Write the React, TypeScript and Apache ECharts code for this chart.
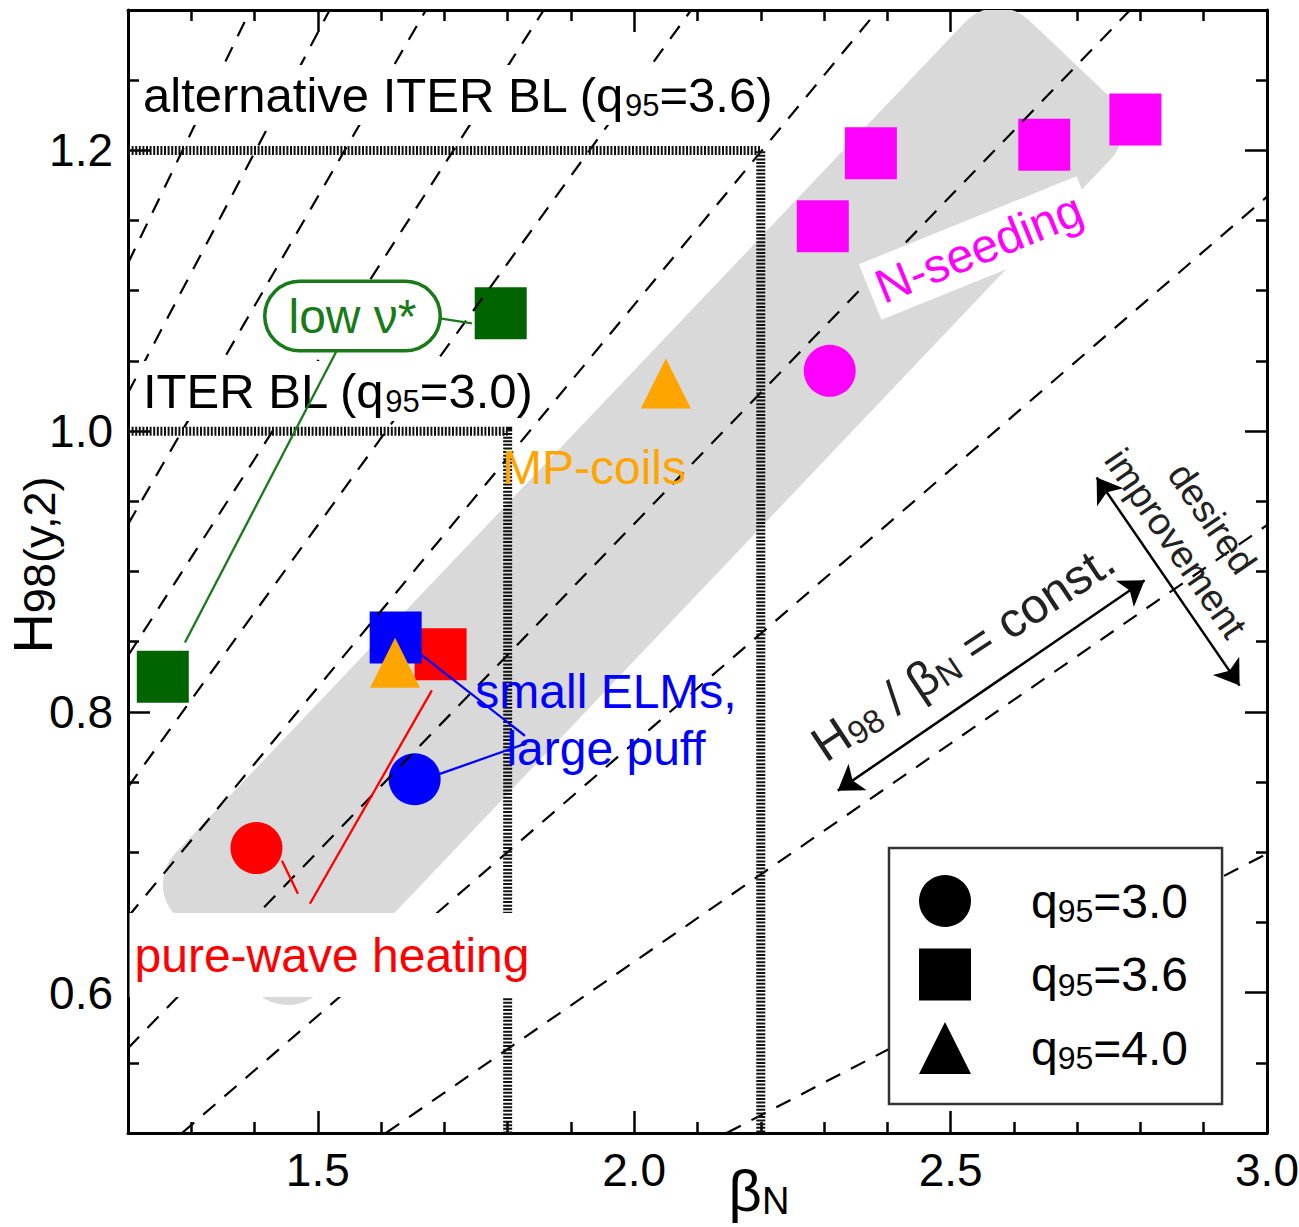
import React, { useEffect, useRef } from 'react';
import * as echarts from 'echarts';

// ---------- data ----------
const X_RANGE = [1.2, 3.0];
const Y_RANGE = [0.5, 1.3];
const X_LABELS = [1.5, 2.0, 2.5, 3.0];
const Y_LABELS = [0.6, 0.8, 1.0, 1.2];

// H98 / betaN = const. lines (ratios)
const constRatios = [0.233, 0.311, 0.389, 0.467, 0.545, 0.622, 0.7, 0.778, 0.856, 0.933];

// ITER baseline boxes [betaN, H98]
const iterBL36 = [[1.2, 1.2], [2.2, 1.2], [2.2, 0.5]];
const iterBL30 = [[1.2, 1.0], [1.8, 1.0], [1.8, 0.5]];

// grey band: centre-line end points [betaN1, H1, betaN2, H2]
const bandEnds = [1.3406, 0.6269, 2.6866, 1.2658];

// q95 = 3.0 (circles)
const circleX = [1.403, 1.653, 2.309];
const circleY = [0.703, 0.752, 1.043];
const circleGroup = ['pureWave', 'smallELM', 'nSeed'];

// q95 = 3.6 (squares)
const squareX = [1.255, 1.789, 1.694, 1.623, 2.298, 2.374, 2.648, 2.792];
const squareY = [0.825, 1.084, 0.841, 0.853, 1.146, 1.198, 1.204, 1.222];
const squareGroup = ['lowNu', 'lowNu', 'pureWave', 'smallELM', 'nSeed', 'nSeed', 'nSeed', 'nSeed'];

// q95 = 4.0 (triangles)
const triX = [1.622, 2.05];
const triY = [0.835, 1.034];
const triGroup = ['mpCoils', 'mpCoils'];

const legendNames = ['q95=3.0', 'q95=3.6', 'q95=4.0'];

// label connectors
const connectorFrom = [[1.693, 1.0804], [1.5302, 1.0576], [1.6613, 0.8415], [1.6929, 0.7558], [1.4433, 0.6939], [1.4875, 0.6633]];
const connectorTo = [[1.7434, 1.0768], [1.29, 0.8494], [1.8272, 0.783], [1.8304, 0.7777], [1.4686, 0.6704], [1.6802, 0.8153]];
const connectorGroup = ['lowNu', 'lowNu', 'smallELM', 'smallELM', 'pureWave', 'pureWave'];

// double arrows
const constArrow = [[2.3217, 0.7439], [2.8066, 0.8937]];
const improveArrow = [[2.7308, 0.967], [2.9567, 0.8187]];

// ---------- styles ----------
const GROUP_COLOR: Record<string, string> = {
  lowNu: '#006400',
  pureWave: '#ff0000',
  smallELM: '#0000ff',
  nSeed: '#ff00ff',
  mpCoils: '#ffa500',
};
const LINE_COLOR: Record<string, string> = {
  lowNu: '#1a7a1a',
  pureWave: '#ff0000',
  smallELM: '#0000ff',
};
const F = "'Liberation Sans', Arial, Helvetica, sans-serif";
const BAND_W = 200;
const BAND_R = 45;
const deg = Math.PI / 180;

const isTick = (list: number[], v: number) => list.some((t) => Math.abs(t - v) < 1e-6);

function buildOption() {
  const dashedLines = constRatios.map((c) => {
    const x1 = Math.max(X_RANGE[0], Y_RANGE[0] / c);
    const x2 = Math.min(X_RANGE[1], Y_RANGE[1] / c);
    return { coords: [[x1, c * x1], [x2, c * x2]] };
  });

  const mkPts = (xs: number[], ys: number[], gs: string[]) =>
    xs.map((x, i) => ({ value: [x, ys[i]], itemStyle: { color: GROUP_COLOR[gs[i]] } }));

  const axisBase = {
    type: 'value',
    axisLine: { show: true, onZero: false, lineStyle: { color: '#000', width: 3 } },
    axisTick: { show: true, inside: true, length: 22, lineStyle: { color: '#000', width: 2.5 } },
    splitLine: { show: false },
    minorSplitLine: { show: false },
  };
  const xBase = {
    ...axisBase,
    min: X_RANGE[0],
    max: X_RANGE[1],
    minInterval: 0.5,
    maxInterval: 0.5,
    minorTick: { show: true, splitNumber: 5, length: 11, lineStyle: { color: '#000', width: 2.5 } },
  };
  const yBase = {
    ...axisBase,
    min: Y_RANGE[0],
    max: Y_RANGE[1],
    minInterval: 0.2,
    maxInterval: 0.2,
    minorTick: { show: true, splitNumber: 4, length: 11, lineStyle: { color: '#000', width: 2.5 } },
  };

  const subRich = (big: number, small: number, color: string, lh: number, slh: number) => ({
    a: { fontSize: big, lineHeight: lh, fontFamily: F, fill: color, color },
    s: { fontSize: small, lineHeight: slh, fontFamily: F, fill: color, color, verticalAlign: 'bottom' },
  });

  return {
    animation: false,
    backgroundColor: '#fff',
    grid: { left: 128, right: 32, top: 10, bottom: 94, containLabel: false, outerBoundsMode: 'none' },
    xAxis: [
      {
        ...xBase,
        position: 'bottom',
        axisLabel: {
          show: true,
          margin: 14,
          fontSize: 46,
          lineHeight: 46,
          fontFamily: F,
          color: '#000',
          formatter: (v: number) => (isTick(X_LABELS, v) ? v.toFixed(1) : ''),
        },
        name: '{b|β}{n|N}',
        nameLocation: 'middle',
        nameGap: 27,
        nameMoveOverlap: false,
        nameTextStyle: {
          padding: [0, 0, 0, 123],
          rich: {
            b: { fontSize: 58, lineHeight: 60, fontFamily: F, color: '#000' },
            n: { fontSize: 38, lineHeight: 22, fontFamily: F, color: '#000', verticalAlign: 'bottom' },
          },
        },
      },
      { ...xBase, position: 'top', axisLabel: { show: false } },
    ],
    yAxis: [
      {
        ...yBase,
        position: 'left',
        axisLabel: {
          show: true,
          margin: 15,
          fontSize: 46,
          fontFamily: F,
          color: '#000',
          formatter: (v: number) => (isTick(Y_LABELS, v) ? v.toFixed(1) : ''),
        },
        name: '{h|H}{s|98(y,2)}',
        nameLocation: 'middle',
        nameRotate: 90,
        nameGap: 66,
        nameMoveOverlap: false,
        nameTextStyle: {
          padding: [0, 0, 0, 13],
          rich: {
            h: { fontSize: 56, lineHeight: 60, fontFamily: F, color: '#000' },
            s: { fontSize: 45, lineHeight: 46, fontFamily: F, color: '#000', verticalAlign: 'bottom' },
          },
        },
      },
      { ...yBase, position: 'right', axisLabel: { show: false } },
    ],
    legend: {
      show: true,
      orient: 'vertical',
      left: 889,
      top: 848,
      z: 8,
      padding: [27, 34, 30, 30],
      itemWidth: 52,
      itemHeight: 52,
      itemGap: 21.5,
      backgroundColor: '#fff',
      borderColor: '#333',
      borderWidth: 2.5,
      borderRadius: 0,
      selectedMode: false,
      data: [
        { name: legendNames[0], icon: 'circle' },
        { name: legendNames[1], icon: 'rect' },
        { name: legendNames[2], icon: 'triangle' },
      ],
      formatter: (name: string) => {
        const m = name.match(/^q(\d+)(=.*)$/);
        return m ? `{q|q}{s|${m[1]}}{n|${m[2]}}` : name;
      },
      textStyle: {
        color: '#000',
        fontFamily: F,
        fontSize: 48,
        rich: {
          q: { fontSize: 48, lineHeight: 52, fontFamily: F, color: '#000', padding: [0, 0, 0, 55] },
          s: { fontSize: 32, lineHeight: 28, fontFamily: F, color: '#000', verticalAlign: 'bottom' },
          n: { fontSize: 48, lineHeight: 52, fontFamily: F, color: '#000' },
        },
      },
    },
    series: [
      {
        type: 'custom',
        name: 'band',
        z: 1,
        silent: true,
        clip: true,
        data: [bandEnds],
        renderItem: (params: any, api: any) => {
          const p1 = api.coord([api.value(0), api.value(1)]);
          const p2 = api.coord([api.value(2), api.value(3)]);
          const dx = p2[0] - p1[0];
          const dy = p2[1] - p1[1];
          const len = Math.hypot(dx, dy);
          return {
            type: 'rect',
            x: (p1[0] + p2[0]) / 2,
            y: (p1[1] + p2[1]) / 2,
            rotation: Math.atan2(-dy, dx),
            shape: { x: -len / 2, y: -BAND_W / 2, width: len, height: BAND_W, r: BAND_R },
            style: { fill: '#d9d9d9' },
          };
        },
      },
      {
        type: 'scatter',
        name: legendNames[0],
        z: 2,
        symbol: 'circle',
        symbolSize: 52,
        itemStyle: { color: '#000', opacity: 1 },
        silent: true,
        data: mkPts(circleX, circleY, circleGroup),
      },
      {
        type: 'scatter',
        name: legendNames[1],
        z: 2,
        symbol: 'rect',
        symbolSize: 52,
        itemStyle: { color: '#000', opacity: 1 },
        silent: true,
        data: mkPts(squareX, squareY, squareGroup),
      },
      {
        type: 'scatter',
        name: legendNames[2],
        z: 2,
        symbol: 'triangle',
        symbolSize: [50, 50],
        itemStyle: { color: '#000', opacity: 1 },
        silent: true,
        data: mkPts(triX, triY, triGroup),
      },
      {
        type: 'lines',
        name: 'H98/betaN = const',
        coordinateSystem: 'cartesian2d',
        z: 3,
        silent: true,
        lineStyle: { color: '#000', width: 2.2, type: [16, 12], opacity: 1 },
        data: dashedLines,
      },
      {
        type: 'lines',
        name: 'ITER BL',
        coordinateSystem: 'cartesian2d',
        polyline: true,
        z: 3,
        silent: true,
        lineStyle: { color: '#111', width: 9, type: [2, 1.6], opacity: 1 },
        data: [{ coords: iterBL36 }, { coords: iterBL30 }],
      },
      {
        type: 'lines',
        name: 'connectors',
        coordinateSystem: 'cartesian2d',
        z: 6,
        silent: true,
        data: connectorFrom.map((f, i) => ({
          coords: [f, connectorTo[i]],
          lineStyle: { color: LINE_COLOR[connectorGroup[i]], width: 2.3, opacity: 1 },
        })),
      },
      {
        type: 'lines',
        name: 'arrows',
        coordinateSystem: 'cartesian2d',
        z: 6,
        silent: true,
        symbol: ['arrow', 'arrow'],
        symbolSize: 24,
        lineStyle: { color: '#000', width: 2.5, opacity: 1 },
        data: [{ coords: constArrow }, { coords: improveArrow }],
      },
    ],
    graphic: [
      {
        type: 'text', z: 5, silent: true, x: 139, y: 95,
        style: {
          text: '{a|alternative ITER BL (q}{s|95}{a|=3.6)}',
          rich: subRich(49, 31, '#000', 52, 28),
          backgroundColor: '#fff', padding: [4, 4],
          align: 'left', verticalAlign: 'middle', textAlign: 'left', textVerticalAlign: 'middle',
        },
      },
      {
        type: 'text', z: 5, silent: true, x: 139, y: 391,
        style: {
          text: '{a|ITER BL (q}{s|95}{a|=3.0)}',
          rich: subRich(49, 31, '#000', 52, 28),
          backgroundColor: '#fff', padding: [4, 4],
          align: 'left', verticalAlign: 'middle', textAlign: 'left', textVerticalAlign: 'middle',
        },
      },
      {
        type: 'text', z: 5, silent: true, x: 352.5, y: 316,
        style: {
          text: 'low ν*', fill: '#1a7a1a', fontSize: 48, fontFamily: F, lineHeight: 48,
          backgroundColor: '#fff', borderColor: '#1a7a1a', borderWidth: 3.5, borderRadius: 34, padding: [9, 22],
          align: 'center', verticalAlign: 'middle', textAlign: 'center', textVerticalAlign: 'middle',
        },
      },
      {
        type: 'text', z: 5, silent: true, x: 594, y: 467,
        style: {
          text: 'MP-coils', fill: '#ffa500', fontSize: 48, fontFamily: F,
          align: 'center', verticalAlign: 'middle', textAlign: 'center', textVerticalAlign: 'middle',
        },
      },
      {
        type: 'text', z: 5, silent: true, x: 979, y: 248, rotation: 22 * deg,
        style: {
          text: 'N-seeding', fill: '#ff00ff', fontSize: 48, fontFamily: F, lineHeight: 48,
          backgroundColor: '#fff', padding: [6, 8],
          align: 'center', verticalAlign: 'middle', textAlign: 'center', textVerticalAlign: 'middle',
        },
      },
      {
        type: 'text', z: 5, silent: true, x: 606, y: 720,
        style: {
          text: 'small ELMs,\nlarge puff', fill: '#0000ff', fontSize: 48, fontFamily: F, lineHeight: 57,
          align: 'center', verticalAlign: 'middle', textAlign: 'center', textVerticalAlign: 'middle',
        },
      },
      {
        type: 'text', z: 5, silent: true, x: 332, y: 955,
        style: {
          text: 'pure-wave heating', fill: '#ff0000', fontSize: 48, fontFamily: F, lineHeight: 48,
          backgroundColor: '#fff', padding: [18, 5],
          align: 'center', verticalAlign: 'middle', textAlign: 'center', textVerticalAlign: 'middle',
        },
      },
      {
        type: 'text', z: 5, silent: true, x: 963, y: 652, rotation: 33.5 * deg,
        style: {
          text: '{a|H}{s|98}{a| / β}{s|N}{a| = const.}',
          rich: subRich(49, 33, '#222', 50, 28),
          align: 'center', verticalAlign: 'middle', textAlign: 'center', textVerticalAlign: 'middle',
        },
      },
      {
        type: 'text', z: 5, silent: true, x: 1194, y: 531, rotation: -55.5 * deg,
        style: {
          text: 'desired\nimprovement', fill: '#222', fontSize: 38, fontFamily: F, lineHeight: 44,
          align: 'center', verticalAlign: 'middle', textAlign: 'center', textVerticalAlign: 'middle',
        },
      },
    ],
  };
}

export default function App() {
  const ref = useRef<HTMLDivElement>(null);
  useEffect(() => {
    if (!ref.current) return;
    const chart = echarts.init(ref.current, undefined, { renderer: 'svg' });
    chart.setOption(buildOption() as any);
    return () => chart.dispose();
  }, []);
  return (
    <div
      ref={ref}
      style={{ position: 'absolute', left: 0, top: 0, width: 1299, height: 1227, background: '#fff' }}
    />
  );
}
